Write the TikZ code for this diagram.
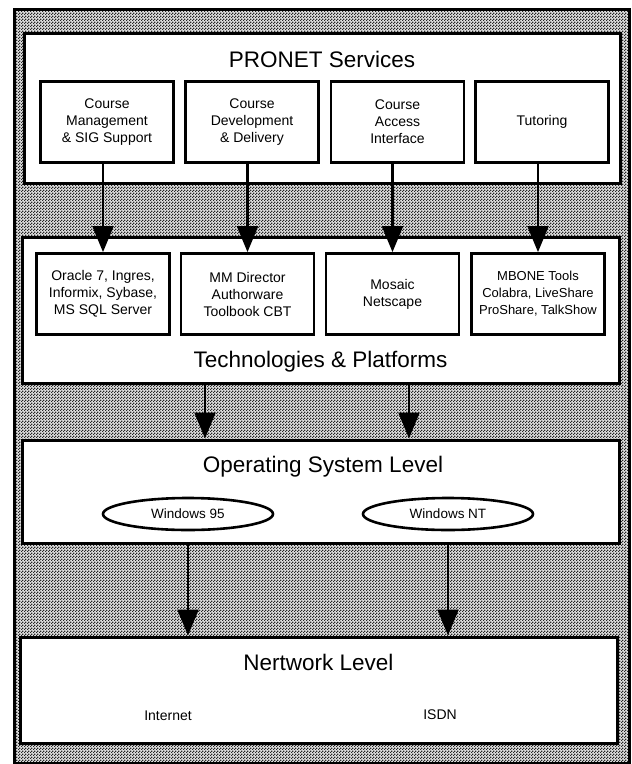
\documentclass[tikz,border=0pt]{standalone}
\usepackage{fontspec}
\setmainfont{Liberation Sans}
\usepackage{tikz}
\usetikzlibrary{arrows.meta, positioning, patterns, shapes.geometric}
% fine halftone for the backdrop
\pgfdeclarepatternformonly{halftone}{\pgfqpoint{0pt}{0pt}}{\pgfqpoint{3pt}{3pt}}{\pgfqpoint{3pt}{3pt}}{%
    \pgfpathrectangle{\pgfqpoint{0pt}{0pt}}{\pgfqpoint{1.5pt}{1.5pt}}%
    \pgfpathrectangle{\pgfqpoint{1.5pt}{1.5pt}}{\pgfqpoint{1.5pt}{1.5pt}}%
    \pgfusepath{fill}}
\tikzset{
    layer/.style={draw, line width=3pt, fill=white},
    tool/.style={draw, line width=2.8pt, fill=white, minimum width=133pt, minimum height=81pt,
        align=center, inner sep=2pt, font=\fontsize{14}{17}\selectfont},
    osbox/.style={draw, ellipse, line width=2.6pt, fill=white, minimum width=170pt, minimum height=32pt,
        inner sep=0pt, font=\fontsize{13.5}{15}\selectfont},
    title/.style={anchor=base, font=\fontsize{22.5}{26}\selectfont},
    netname/.style={font=\fontsize{14}{16}\selectfont},
    link/.style={line width=2.2pt, -{Triangle[length=26pt, width=21pt]}}
}

\begin{document}
\begin{tikzpicture}[x=1pt, y=-1pt]
    \useasboundingbox (0,0) rectangle (632,764);
    % backdrop
    \fill[black!12] (14,9) rectangle (629,763);
    \draw[line width=3pt, pattern=halftone, pattern color=black!85] (14,9) rectangle (629,763);

    % the four layers
    \node[layer, minimum width=596pt, minimum height=150pt] (services) at (322,108) {};
    \node[layer, minimum width=597pt, minimum height=146pt] (tech) at (320.5,310) {};
    \node[layer, minimum width=597pt, minimum height=103pt] (os) at (320.5,491.5) {};
    \node[layer, minimum width=597pt, minimum height=106pt] (net) at (318.5,690) {};

    \node[title] (servicesT) at (322,67) {PRONET Services};
    \node[title] (techT) at (320.5,367) {Technologies \& Platforms};
    \node[title] (osT) at (323,472) {Operating System Level};
    \node[title] (netT) at (318.5,670) {Nertwork Level};

    % services
    \node[tool] (s1) at (107,122) {Course\\Management\\\& SIG Support};
    \node[tool] (s2) at (252,122) {Course\\Development\\\& Delivery};
    \node[tool] (s3) at (397.5,122) {Course\\Access\\Interface};
    \node[tool] (s4) at (542,122) {Tutoring};

    % technologies
    \node[tool] (t1) at (103,294) {Oracle 7, Ingres,\\Informix, Sybase,\\MS SQL Server};
    \node[tool] (t2) at (247.5,294) {MM Director\\Authorware\\Toolbook CBT};
    \node[tool] (t3) at (392.5,294) {Mosaic\\Netscape};
    \node[tool, font=\fontsize{13}{17}\selectfont] (t4) at (538,294) {MBONE Tools\\Colabra, LiveShare\\ProShare, TalkShow};

    % operating systems
    \node[osbox] (w95) at (188,514) {Windows 95};
    \node[osbox] (wnt) at (448,514) {Windows NT};

    % networks
    \node[netname] (inet) at (168,716) {Internet};
    \node[netname] (isdn) at (440,715) {ISDN};

    % arrows between layers
    \foreach \i in {1,...,4}
        \draw[link] (s\i.south -| t\i.north) -- (t\i.north);
    \coordinate (dropA) at (205,0);
    \coordinate (dropB) at (409,0);
    \draw[link] (tech.south -| dropA) -- (os.north -| dropA);
    \draw[link] (tech.south -| dropB) -- (os.north -| dropB);
    \draw[link] (os.south -| w95) -- (net.north -| w95);
    \draw[link] (os.south -| wnt) -- (net.north -| wnt);
\end{tikzpicture}
\end{document}
